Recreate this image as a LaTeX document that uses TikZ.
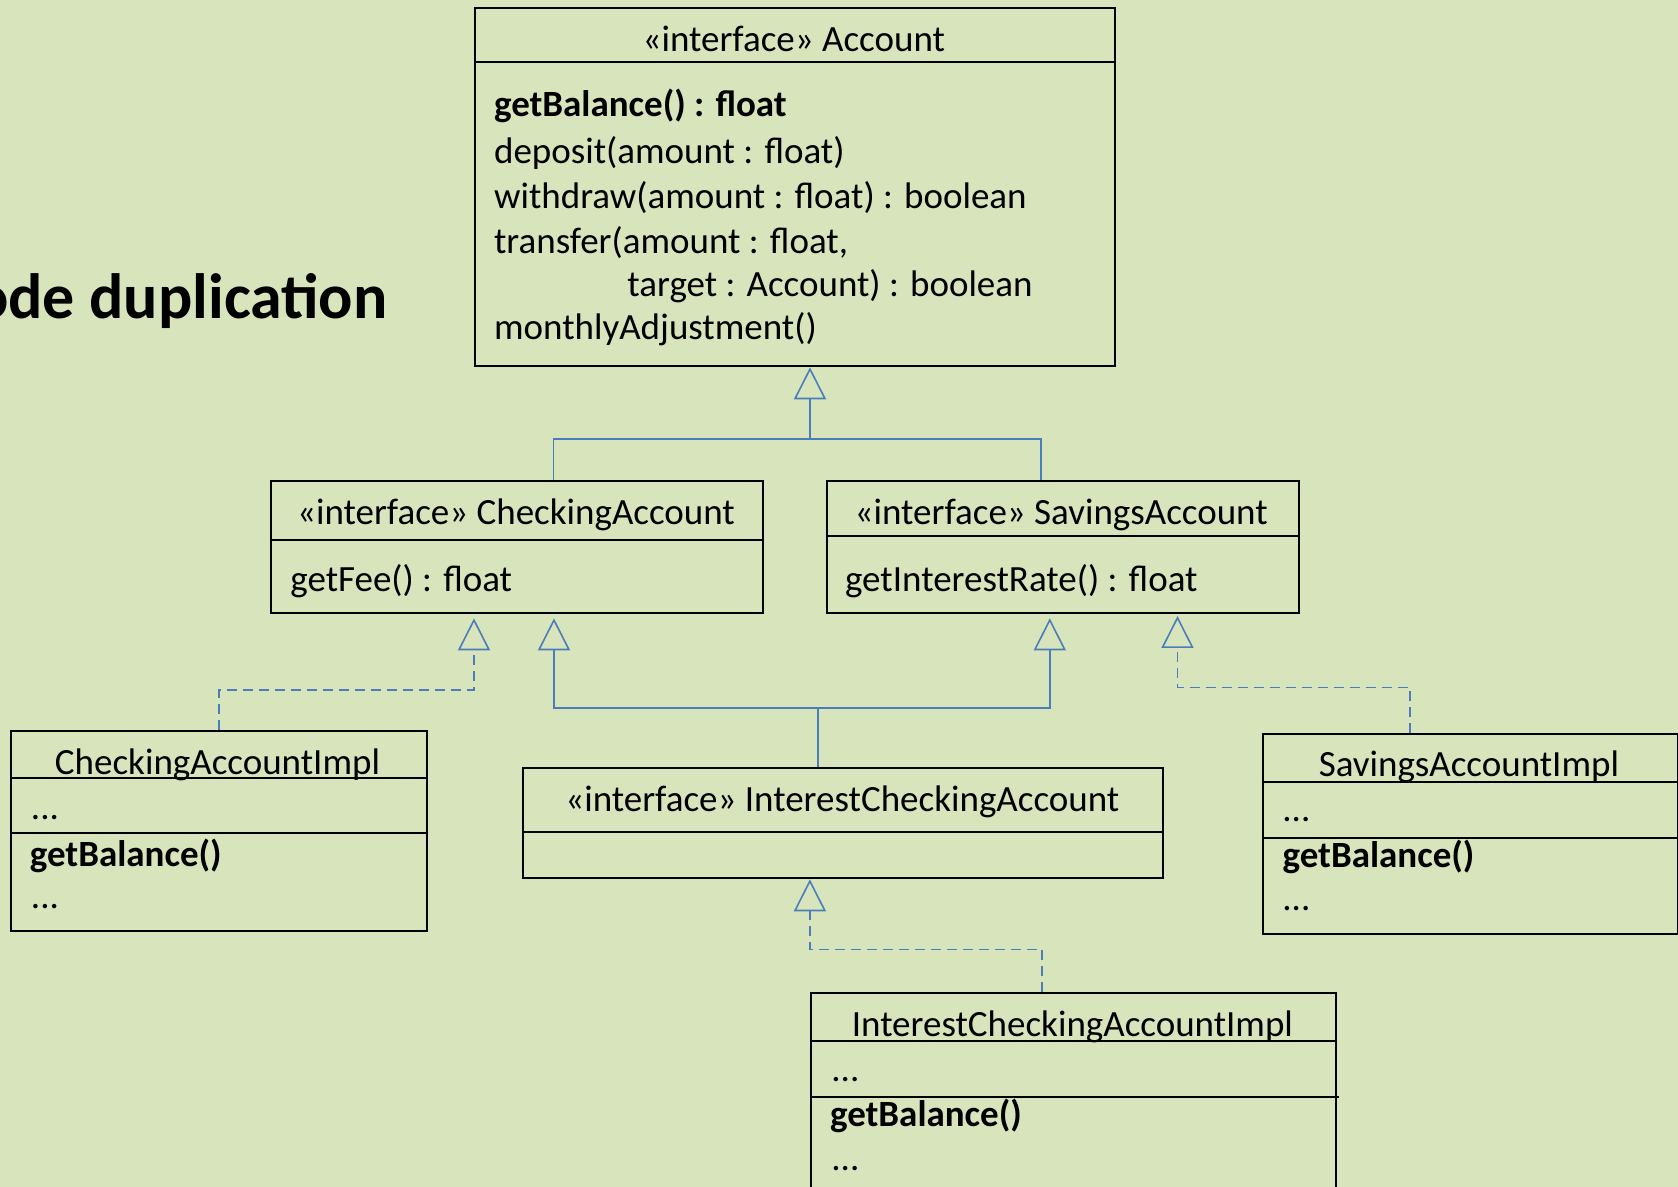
\documentclass[tikz,border=0pt]{standalone}
\usepackage{fontspec}
\setmainfont{Carlito}
\usetikzlibrary{arrows.meta}
\definecolor{bg}{HTML}{D8E4BC}
\definecolor{umlblue}{HTML}{4A7EBB}

\begin{document}
\begin{tikzpicture}[x=0.5pt,y=-0.5pt,
  cls/.style={draw=black, line width=1pt, inner sep=0pt, anchor=north west},
  sep/.style={draw=black, line width=1pt},
  txt/.style={inner sep=0pt, anchor=base west, font=\fontsize{18.5pt}{22pt}\selectfont},
  ttl/.style={inner sep=0pt, anchor=base, font=\fontsize{18.5pt}{22pt}\selectfont},
  link/.style={draw=umlblue, line width=0.8pt},
  gen/.style={link, -{Triangle[open, length=16pt, width=16pt]}},
  real/.style={gen, dash pattern=on 5pt off 3pt},
]
\useasboundingbox (0,0) rectangle (1678,1187);
\fill[bg] (0,0) rectangle (1678,1187);

% slide heading (partly outside the frame)
\node[inner sep=0pt, anchor=base east, font=\bfseries\fontsize{32pt}{38pt}\selectfont] (heading) at (388,318.3) {ode duplication};

% ---------- Account ----------
\node[cls, minimum width=319.8pt, minimum height=178.85pt] (acc) at (474,7.3) {};
\draw[sep] (acc.west |- 0,61.7) -- (acc.east |- 0,61.7);
\node[ttl] (accName) at (793.8,51.7) {«interface» Account};
\node[txt] (accM1) at (493.7,116.7) {\bfseries getBalance() : float};
\node[txt] (accM2) at (493.7,163.3) {deposit(amount : float)};
\node[txt] (accM3) at (493.7,208.3) {withdraw(amount : float) : boolean};
\node[txt] (accM4) at (493.7,253.3) {transfer(amount : float,};
\node[txt] (accM5) at (627,296.7) {target : Account) : boolean};
\node[txt] (accM6) at (493.7,340) {monthlyAdjustment()};

% ---------- CheckingAccount ----------
\node[cls, minimum width=245.85pt, minimum height=66.15pt] (chk) at (270,480) {};
\draw[sep] (chk.west |- 0,540) -- (chk.east |- 0,540);
\node[ttl] (chkName) at (516,525) {«interface» CheckingAccount};
\node[txt] (chkM1) at (290,591.7) {getFee() : float};

% ---------- SavingsAccount ----------
\node[cls, minimum width=236.25pt, minimum height=66.15pt] (sav) at (825.8,480) {};
\draw[sep] (sav.west |- 0,536) -- (sav.east |- 0,536);
\node[ttl] (savName) at (1061.2,525) {«interface» SavingsAccount};
\node[txt] (savM1) at (844.7,591.7) {getInterestRate() : float};

% ---------- CheckingAccountImpl ----------
\node[cls, minimum width=207.9pt, minimum height=100pt] (chkimpl) at (10.2,730) {};
\draw[sep] (chkimpl.west |- 0,777.7) -- (chkimpl.east |- 0,777.7);
\draw[sep] (chkimpl.west |- 0,832.7) -- (chkimpl.east |- 0,832.7);
\node[ttl] (chkimplName) at (217.5,775) {CheckingAccountImpl};
\node[txt] (chkimplA) at (30.6,819.3) {...};
\node[txt] (chkimplB) at (29.5,866) {\bfseries getBalance()};
\node[txt] (chkimplC) at (30.6,908) {...};

% ---------- InterestCheckingAccount ----------
\node[cls, minimum width=320pt, minimum height=54.7pt] (ichk) at (522,767.3) {};
\draw[sep] (ichk.west |- 0,832.3) -- (ichk.east |- 0,832.3);
\node[ttl] (ichkName) at (842.3,811.7) {«interface» InterestCheckingAccount};

% ---------- SavingsAccountImpl ----------
\node[cls, minimum width=207.65pt, minimum height=100pt] (savimpl) at (1261.7,733.3) {};
\draw[sep] (savimpl.west |- 0,781.7) -- (savimpl.east |- 0,781.7);
\draw[sep] (savimpl.west |- 0,838.3) -- (savimpl.east |- 0,838.3);
\node[ttl] (savimplName) at (1468.9,776.7) {SavingsAccountImpl};
\node[txt] (savimplA) at (1282,821) {...};
\node[txt] (savimplB) at (1282.3,867.3) {\bfseries getBalance()};
\node[txt] (savimplC) at (1282,910) {...};

% ---------- InterestCheckingAccountImpl ----------
\node[cls, minimum width=262.55pt, minimum height=110pt] (ichkimpl) at (809.9,992.3) {};
\draw[sep] (ichkimpl.west |- 0,1040.7) -- (ichkimpl.east |- 0,1040.7);
\draw[sep] (ichkimpl.west |- 0,1096.7) -- ([xshift=1pt]ichkimpl.east |- 0,1096.7);
\node[ttl] (ichkimplName) at (1072.4,1036) {InterestCheckingAccountImpl};
\node[txt] (ichkimplA) at (831,1081.7) {...};
\node[txt] (ichkimplB) at (829.7,1126.7) {\bfseries getBalance()};
\node[txt] (ichkimplC) at (831,1170) {...};

% ---------- connectors ----------
\coordinate (accTip) at (810,367.3);
\coordinate (jA) at (810,439.3);
\coordinate (chkTipA) at (474,618.3);
\coordinate (chkTipB) at (554,618.3);
\coordinate (savTipA) at (1049.8,618.3);
\coordinate (savTipB) at (1177.5,616);
\coordinate (jB) at (818,708.3);
\coordinate (ichkTip) at (809.9,879.3);

% generalization: CheckingAccount, SavingsAccount -> Account
\draw[link] (chk.north -| 553.5,0) |- (jA) -| (sav.north -| 1041,0);
\draw[gen] (jA) -- (accTip);

% generalization: InterestCheckingAccount -> CheckingAccount, SavingsAccount
\draw[link] (ichk.north -| 818,0) -- (jB);
\draw[gen] (jB) -| (chkTipB);
\draw[gen] (jB) -| (savTipA);

% realizations
\draw[real] (chkimpl.north) -- ++(0,-40) -| (chkTipA);
\draw[real] (savimpl.north -| 1410,0) -- ++(0,-45.6) -| (savTipB);
\draw[real] (ichkimpl.north -| 1041.8,0) -- ++(0,-43) -| (ichkTip);
\end{tikzpicture}
\end{document}
